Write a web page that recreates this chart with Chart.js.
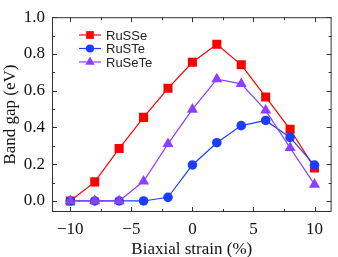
<!DOCTYPE html>
<html>
<head>
<meta charset="utf-8">
<script src="https://cdn.jsdelivr.net/npm/chart.js@4/dist/chart.umd.min.js"></script>
<style>
  html,body{margin:0;padding:0;background:#fff;}
  #wrap{width:338px;height:257px;position:relative;}
</style>
</head>
<body>
<div id="wrap"><canvas id="chart"></canvas></div>
<script>
// strain values (%)
var strain = [-10, -8, -6, -4, -2, 0, 2, 4, 6, 8, 10];
var russe  = [0, 0.104, 0.285, 0.455, 0.613, 0.755, 0.853, 0.741, 0.566, 0.39, 0.18];
var ruste  = [0, 0, 0, 0, 0.02, 0.196, 0.317, 0.41, 0.438, 0.346, 0.195];
var rusete = [0, 0, 0, 0.107, 0.311, 0.498, 0.663, 0.637, 0.493, 0.289, 0.09];
var names  = ['RuSSe', 'RuSTe', 'RuSeTe'];
var colors = ['#ff0000', '#1a3dff', '#8c40ff'];
var shapes = ['rect', 'circle', 'triangle'];
var sizes  = [6.4, 4.8, 6.4];
var xTicks = [-10, -5, 0, 5, 10];
var yTicks = [0, 0.2, 0.4, 0.6, 0.8, 1.0];

function pts(arr){
  return strain.map(function(s,i){ return {x:s, y:arr[i]}; });
}
var series = [russe, ruste, rusete];

var datasets = series.map(function(arr,i){
  return {
    label: names[i],
    data: pts(arr),
    borderColor: colors[i],
    backgroundColor: colors[i],
    borderWidth: 1.2,
    pointStyle: shapes[i],
    pointRadius: sizes[i],
    pointBorderWidth: 0,
    order: 2 - i
  };
});

// ticks on all four sides, pointing in, with minor ticks
var frameTicks = {
  id: 'frameTicks',
  afterDatasetsDraw: function(chart){
    var c = chart.ctx, a = chart.chartArea;
    var xs = chart.scales.x, ys = chart.scales.y;
    c.save();
    c.strokeStyle = '#333';
    c.lineWidth = 1;
    c.beginPath();
    for (var v = -10; v <= 10.01; v += 2.5){
      var px = Math.round(xs.getPixelForValue(v)) + 0.5;
      var len = (Math.abs(v % 5) < 0.01) ? 5 : 3;
      c.moveTo(px, a.bottom); c.lineTo(px, a.bottom - len);
      c.moveTo(px, a.top); c.lineTo(px, a.top + len);
    }
    for (var k = 0; k <= 10; k++){
      var py = Math.round(ys.getPixelForValue(k/10)) + 0.5;
      var l2 = (k % 2 == 0) ? 5 : 3;
      c.moveTo(a.left, py); c.lineTo(a.left + l2, py);
      c.moveTo(a.right, py); c.lineTo(a.right - l2, py);
    }
    c.stroke();
    c.strokeRect(a.left + 0.5, a.top + 0.5, a.right - a.left - 1, a.bottom - a.top - 1);
    c.restore();
  }
};

// legend: line + marker + name
var lineLegend = {
  id: 'lineLegend',
  afterDraw: function(chart){
    var c = chart.ctx;
    c.save();
    c.font = '13px "Liberation Sans", Arial, sans-serif';
    c.textBaseline = 'middle';
    for (var i = 0; i < names.length; i++){
      var y = 35 + i * 13.5;
      c.strokeStyle = colors[i];
      c.lineWidth = 1.2;
      c.beginPath(); c.moveTo(79, y); c.lineTo(101, y); c.stroke();
      c.fillStyle = colors[i];
      Chart.helpers.drawPoint(c, {pointStyle: shapes[i], radius: sizes[i] * 0.85, borderWidth: 0}, 90, y);
      c.fillStyle = '#222';
      c.fillText(names[i], 106, y + 1);
    }
    c.restore();
  }
};

var serif = '"Liberation Serif", "Times New Roman", serif';

new Chart(document.getElementById('chart').getContext('2d'), {
  type: 'line',
  data: { datasets: datasets },
  options: {
    responsive: true,
    maintainAspectRatio: false,
    animation: false,
    layout: { padding: { top: 7, right: 3, left: 0, bottom: 0 } },
    plugins: {
      legend: { display: false },
      tooltip: { enabled: false }
    },
    scales: {
      x: {
        type: 'linear',
        min: -11.5, max: 11.4,
        grid: { display: false, drawTicks: false },
        border: { display: false },
        afterBuildTicks: function(s){ s.ticks = xTicks.map(function(v){ return {value:v}; }); },
        ticks: {
          color: '#111',
          font: { family: serif, size: 17 },
          padding: 7,
          maxRotation: 0,
          callback: function(v){ return v < 0 ? '\u2212' + Math.abs(v) : String(v); }
        },
        title: {
          display: true, text: 'Biaxial strain (%)',
          color: '#111', font: { family: serif, size: 17 },
          padding: { top: 0, bottom: -3 }
        },
        afterFit: function(s){ s.height = 45; }
      },
      y: {
        min: -0.06, max: 1.0,
        grid: { display: false, drawTicks: false },
        border: { display: false },
        afterBuildTicks: function(s){ s.ticks = yTicks.map(function(v){ return {value:v}; }); },
        ticks: {
          color: '#111',
          font: { family: serif, size: 17 },
          padding: 7,
          callback: function(v){ return v.toFixed(1); }
        },
        title: {
          display: true, text: 'Band gap (eV)',
          color: '#111', font: { family: serif, size: 17 },
          padding: { top: 0, bottom: 2 }
        },
        afterFit: function(s){ s.width = 52; }
      }
    }
  },
  plugins: [frameTicks, lineLegend]
});
</script>
</body>
</html>
